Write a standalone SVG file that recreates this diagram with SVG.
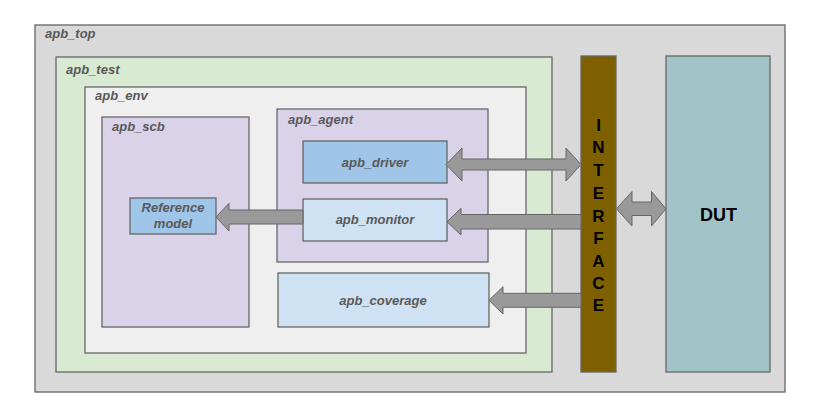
<svg xmlns="http://www.w3.org/2000/svg" width="820" height="402" viewBox="0 0 820 402">
<style>
.box{stroke:#666666;stroke-width:1.3}
.lbl{font-family:"Liberation Sans",Arial,sans-serif;font-size:13px;font-weight:bold;font-style:italic;fill:#595959}
.ctr{text-anchor:middle}
.big{font-family:"Liberation Sans",Arial,sans-serif;font-size:17px;font-weight:bold;fill:#000000;text-anchor:middle}
.arrow{fill:#999999;stroke:#666666;stroke-width:1}
</style>
<rect width="820" height="402" fill="#ffffff"/>
<g id="apb_top">
<rect class="box" x="35" y="25" width="750" height="367" fill="#d9d9d9"/>
<text class="lbl" x="45" y="38">apb_top</text>
</g>
<g id="apb_test">
<rect class="box" x="56" y="57" width="496" height="315" fill="#d9ead3"/>
<text class="lbl" x="66" y="74">apb_test</text>
</g>
<g id="apb_env">
<rect class="box" x="85" y="87" width="441" height="266" fill="#efefef"/>
<text class="lbl" x="95" y="100">apb_env</text>
</g>
<g id="apb_scb">
<rect class="box" x="102" y="117" width="147" height="210" fill="#d9d2e9"/>
<text class="lbl" x="112" y="131">apb_scb</text>
</g>
<g id="apb_agent">
<rect class="box" x="277" y="109" width="211" height="153" fill="#d9d2e9"/>
<text class="lbl" x="288" y="124">apb_agent</text>
</g>
<g id="apb_driver">
<rect class="box" x="303" y="141" width="144" height="42" fill="#9fc5e8"/>
<text class="lbl ctr" x="375" y="167">apb_driver</text>
</g>
<g id="apb_monitor">
<rect class="box" x="303" y="199" width="144" height="42" fill="#cfe2f3"/>
<text class="lbl ctr" x="375" y="224">apb_monitor</text>
</g>
<g id="reference_model">
<rect class="box" x="130" y="198" width="86" height="36" fill="#9fc5e8"/>
<text class="lbl ctr" x="173" y="212">Reference</text>
<text class="lbl ctr" x="173" y="228">model</text>
</g>
<g id="apb_coverage">
<rect class="box" x="278" y="273" width="211" height="54" fill="#cfe2f3"/>
<text class="lbl ctr" x="383" y="305">apb_coverage</text>
</g>
<g id="interface">
<rect class="box" x="581" y="56" width="35" height="316" fill="#7f6000"/>
<text class="big" x="598.5" y="131">I</text>
<text class="big" x="598.5" y="153">N</text>
<text class="big" x="598.5" y="176">T</text>
<text class="big" x="598.5" y="199">E</text>
<text class="big" x="598.5" y="222">R</text>
<text class="big" x="598.5" y="244">F</text>
<text class="big" x="598.5" y="267">A</text>
<text class="big" x="598.5" y="289">C</text>
<text class="big" x="598.5" y="311">E</text>
</g>
<g id="dut">
<rect class="box" x="666" y="56" width="104" height="316" fill="#a2c4c9"/>
<text class="big" x="718.5" y="221" style="font-size:18px">DUT</text>
</g>
<g id="connectors">
<polygon class="arrow" points="446,164.5 462,148 462,159 566,159 566,148 581,164.5 566,181 566,170 462,170 462,181"/>
<polygon class="arrow" points="447,221.7 461,208.3 461,214.5 581,214.5 581,229 461,229 461,235"/>
<polygon class="arrow" points="489,300.3 503,286.7 503,293.3 581,293.3 581,307.3 503,307.3 503,314"/>
<polygon class="arrow" points="216,217 229,203.3 229,210 303,210 303,224 229,224 229,231"/>
<polygon class="arrow" points="616.5,208.8 632,191.5 632,202 651.5,202 651.5,191.5 666,208.8 651.5,226 651.5,215.5 632,215.5 632,226"/>
</g>
</svg>
